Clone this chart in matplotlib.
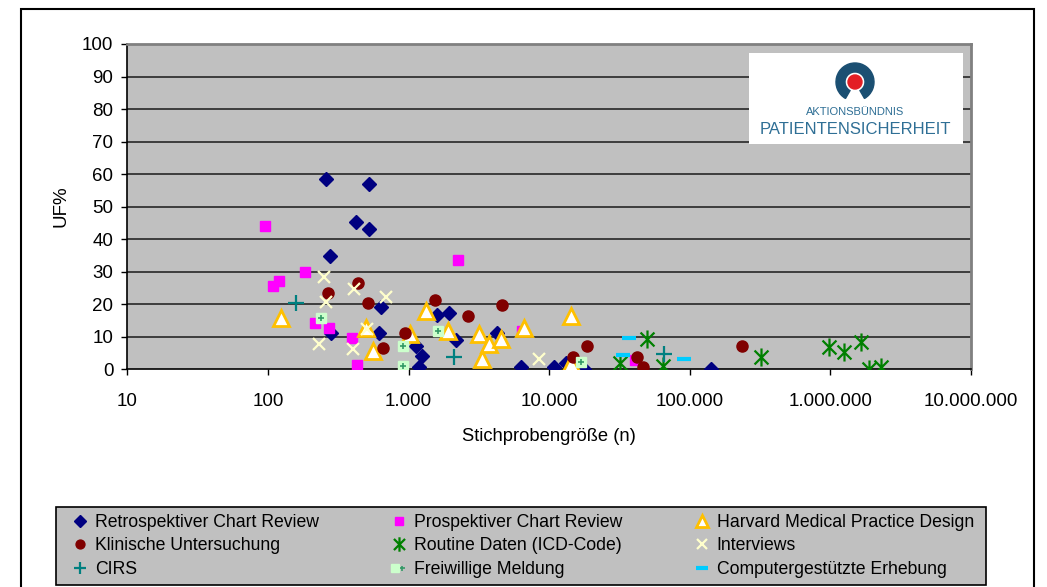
import matplotlib
matplotlib.use('Agg')
import matplotlib.pyplot as plt
from matplotlib.patches import Rectangle, Wedge, Circle
from matplotlib.path import Path
from matplotlib.legend_handler import HandlerTuple
from matplotlib.ticker import FixedLocator, FixedFormatter

plt.rcParams['font.family'] = ['Liberation Sans', 'DejaVu Sans']

# Data (sample size n, UE%)
retro_n = [259, 526, 421, 526, 278, 637, 280, 620, 1130, 1253, 1194, 1585, 1950, 2177,
           4285, 6310, 10790, 13120, 17700, 141000]
retro_uf = [58.5, 57.0, 45.3, 43.1, 34.8, 19.1, 11.1, 11.1, 7.3, 4.2, 0.7, 16.6, 17.2, 9.0,
            11.1, 0.7, 0.7, 2.0, 0.2, 0.2]

prosp_n = [95, 119, 109, 184, 216, 270, 396, 428, 2260, 6380, 40800]
prosp_uf = [44.0, 27.1, 25.5, 30.0, 14.2, 12.7, 9.6, 1.4, 33.6, 11.8, 2.9]

harvard_n = [124, 496, 556, 1020, 1331, 1900, 3170, 3755, 4530, 3350, 6625, 14320, 14250]
harvard_uf = [15.8, 12.8, 5.6, 10.9, 18.0, 11.9, 10.9, 7.8, 9.3, 3.2, 12.8, 16.4, 1.9]

klin_n = [437, 269, 518, 944, 662, 1543, 2662, 4600, 14860, 18500, 42000, 46800, 234000]
klin_uf = [26.6, 23.5, 20.4, 11.2, 6.5, 21.4, 16.4, 19.9, 3.9, 7.2, 3.9, 0.6, 7.2]

routine_n = [49900, 31900, 64900, 320000, 979000, 1250000, 1644000, 1884000, 2282000]
routine_uf = [9.4, 2.0, 1.0, 3.7, 6.8, 5.2, 8.3, 0.1, 0.6]

interv_n = [252, 412, 692, 259, 505, 232, 401, 8510]
interv_uf = [28.3, 24.7, 22.1, 20.6, 12.3, 7.8, 6.2, 3.2]

cirs_n = [158, 2108, 65600]
cirs_uf = [20.5, 3.7, 4.6]

freiw_n = [239, 914, 914, 1614, 16790]
freiw_uf = [15.8, 7.3, 1.1, 11.9, 2.2]

comp_n = [37000, 33400, 91000]
comp_uf = [9.6, 4.5, 3.1]

x_ticks = [10, 100, 1000, 10000, 100000, 1000000, 10000000]
x_labels = ['10', '100', '1.000', '10.000', '100.000', '1.000.000', '10.000.000']
y_ticks = list(range(0, 101, 10))

# Excel-like asterisk: X plus a vertical bar
asterisk = Path([(-1, -1), (1, 1), (-1, 1), (1, -1), (0, -1.3), (0, 1.3)],
                [Path.MOVETO, Path.LINETO, Path.MOVETO, Path.LINETO, Path.MOVETO, Path.LINETO])

fig = plt.figure(figsize=(10.47, 5.87), dpi=100)
ax = fig.add_axes([127.3 / 1047, 1 - 369.3 / 587, (971 - 127.3) / 1047, (369.3 - 44) / 587])
ax.set_facecolor('#c0c0c0')
ax.set_xscale('log')
ax.set_xlim(10, 10000000)
ax.set_ylim(0, 100)

for yv in y_ticks[1:-1]:
    ax.axhline(yv, color='#1a1a1a', lw=1.1, zorder=1)

h_retro, = ax.plot(retro_n, retro_uf, ls='none', marker='D', ms=7.5, color='#000080', zorder=3)
h_prosp, = ax.plot(prosp_n, prosp_uf, ls='none', marker='s', ms=7.5, color='#ff00ff', zorder=3)
h_harv, = ax.plot(harvard_n, harvard_uf, ls='none', marker='^', ms=11, mfc='white',
                  mec='#ffc000', mew=2, zorder=3)
h_klin, = ax.plot(klin_n, klin_uf, ls='none', marker='o', ms=8, color='#800000', zorder=3)
h_rout, = ax.plot(routine_n, routine_uf, ls='none', marker=asterisk, ms=13, mfc='none',
                  mec='#008000', mew=1.6, zorder=3)
h_int, = ax.plot(interv_n, interv_uf, ls='none', marker='x', ms=9, mec='#ffffcc', mew=1.6, zorder=3)
h_cirs, = ax.plot(cirs_n, cirs_uf, ls='none', marker='+', ms=11, mec='#008080', mew=1.6, zorder=3)
h_fw1, = ax.plot(freiw_n, freiw_uf, ls='none', marker='s', ms=7.5, color='#ccffcc', zorder=3)
h_fw2, = ax.plot(freiw_n, freiw_uf, ls='none', marker='+', ms=4.5, mec='#339966', mew=1.2, zorder=4)
h_comp, = ax.plot(comp_n, comp_uf, ls='none', marker='_', ms=10, mec='#00ccff', mew=3, zorder=3)

ax.xaxis.set_major_locator(FixedLocator(x_ticks))
ax.xaxis.set_major_formatter(FixedFormatter(x_labels))
ax.xaxis.set_minor_locator(FixedLocator([]))
ax.set_yticks(y_ticks)
ax.tick_params(axis='both', direction='out', length=4, width=1, color='black',
               labelsize=13.5, colors='black')
ax.tick_params(axis='x', pad=13)
ax.tick_params(axis='y', pad=6)

for side in ['left', 'bottom']:
    ax.spines[side].set_color('black')
    ax.spines[side].set_linewidth(1.2)
for side in ['top', 'right']:
    ax.spines[side].set_color('#808080')
    ax.spines[side].set_linewidth(2)

ax.set_xlabel('Stichprobengröße (n)', fontsize=13.2, labelpad=13)
ax.set_ylabel('UF%', fontsize=13.5, labelpad=9)

# outer chart frame
fig.patches.append(Rectangle((21 / 1047, -0.02), (1034 - 21) / 1047, 1.02 - 9 / 587,
                             transform=fig.transFigure, fill=False, ec='black', lw=1.5))

# logo
lax = fig.add_axes([749 / 1047, 1 - 144 / 587, 214 / 1047, 91 / 587])
lax.set_xlim(0, 214)
lax.set_ylim(0, 91)
lax.set_facecolor('white')
lax.set_xticks([])
lax.set_yticks([])
for s in lax.spines.values():
    s.set_visible(False)
lax.add_patch(Wedge((106, 62), 19, -60, 240, width=9, color='#1b4f72'))
lax.add_patch(Circle((106, 62), 7, color='#e31e24'))
lax.text(106, 32, 'AKTIONSBÜNDNIS', ha='center', va='center', fontsize=8, color='#2f6f95')
lax.text(106, 14, 'PATIENTENSICHERHEIT', ha='center', va='center', fontsize=12, color='#2f6f95')

# legend box and entries (column-wise order so rows read like the reference)
fig.patches.append(Rectangle((56 / 1047, 2 / 587), 930 / 1047, 78 / 587, transform=fig.transFigure,
                             facecolor='#c0c0c0', edgecolor='black', lw=1.2, zorder=0))
handles = [h_retro, h_klin, h_cirs, h_prosp, h_rout, (h_fw1, h_fw2), h_harv, h_int, h_comp]
labels = ['Retrospektiver Chart Review', 'Klinische Untersuchung', 'CIRS',
          'Prospektiver Chart Review', 'Routine Daten (ICD-Code)', 'Freiwillige Meldung',
          'Harvard Medical Practice Design', 'Interviews', 'Computergestützte Erhebung']
leg = fig.legend(handles, labels, ncol=3, loc='center left',
                 bbox_to_anchor=(73 / 1047, 8 / 587, 901 / 1047, 66 / 587), mode='expand',
                 fontsize=12.7, frameon=False, handlelength=0.8, handletextpad=0.45,
                 labelspacing=0.35, borderaxespad=0, borderpad=0, markerscale=0.8,
                 handler_map={tuple: HandlerTuple(ndivide=None)})

plt.savefig('out.png', dpi=100)
plt.close()
print("Created: out.png")
